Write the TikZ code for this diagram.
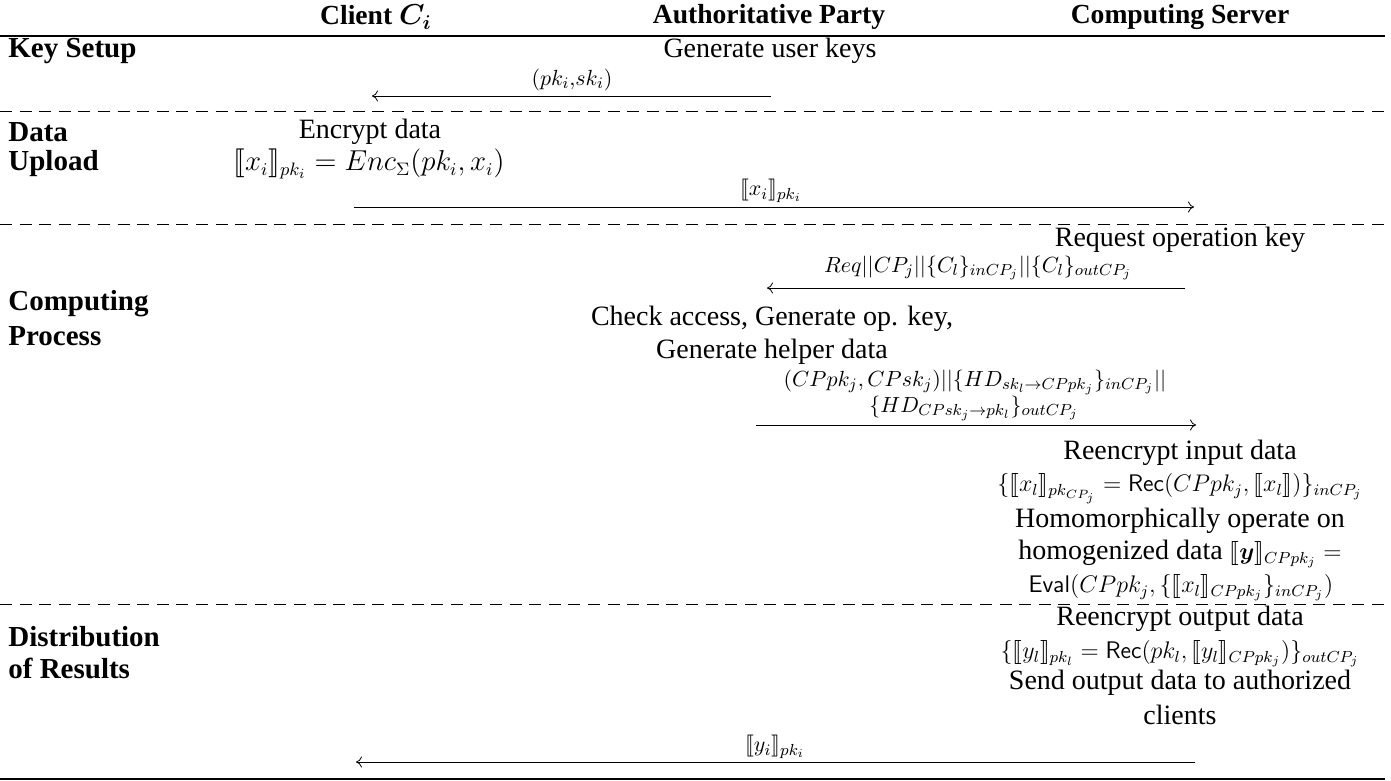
\documentclass[tikz,border=0pt]{standalone}
\usepackage{amsmath,amssymb}
\usepackage{stmaryrd}
\usepackage[no-math]{fontspec}
\setmainfont{Liberation Serif}
\usetikzlibrary{arrows.meta}
\tikzset{
  txt/.style={font=\fontsize{14}{16}\selectfont, inner sep=0pt},
  lbl/.style={font=\fontsize{11.3}{13}\selectfont, inner sep=0pt},
  frm/.style={font=\fontsize{12}{14}\selectfont, inner sep=0pt},
  head/.style={font=\fontsize{13.8}{16}\selectfont\bfseries\boldmath, inner sep=0pt},
  phase/.style={font=\fontsize{14.5}{16}\selectfont\bfseries, inner sep=0pt, anchor=west},
  msg/.style={-{To[length=3pt,width=5.5pt]}, line width=0.4pt},
  solidrule/.style={line width=0.7pt},
  dashrule/.style={line width=0.5pt, dash pattern=on 6pt off 3.8pt},
}
\begin{document}
\begin{tikzpicture}[x=0.5pt, y=-0.5pt]
\useasboundingbox (0,0) rectangle (1391,781);
% header
\node[head] (hc) at (376,17) {Client $C_i$};
\node[head] (ha) at (769,17) {Authoritative Party};
\node[head] (hs) at (1180,17) {Computing Server};
\draw[solidrule] (0,36) -- (1385,36);
% key setup
\node[phase] (p1) at (8,51) {Key Setup};
\node[txt] (gen) at (770,51) {Generate user keys};
\coordinate (a1s) at (771,96);
\coordinate (a1e) at (372,96);
\draw[msg] (a1s) -- (a1e);
\node[lbl] (l1) at (572,80) {$(pk_i{,}sk_i)$};
\draw[dashrule] (0,112) -- (1385,112);
% data upload
\node[phase] (p2a) at (8,132) {Data};
\node[phase] (p2b) at (8,164) {Upload};
\node[txt] (enc) at (370,132) {Encrypt data};
\node[txt, font=\fontsize{13.4}{15}\selectfont] (encf) at (369,164) {$\llbracket x_i\rrbracket_{pk_i} = Enc_{\Sigma}(pk_i, x_i)$};
\coordinate (a2s) at (354,207);
\coordinate (a2e) at (1194,207);
\draw[msg] (a2s) -- (a2e);
\node[lbl] (l2) at (771,191) {$\llbracket x_i\rrbracket_{pk_i}$};
\draw[dashrule] (0,224) -- (1385,224);
% computing process
\node[txt] (req) at (1180,240) {Request operation key};
\node[lbl] (l3) at (978,268) {$Req||CP_j||\{C_l\}_{inCP_j}||\{C_l\}_{outCP_j}$};
\coordinate (a3s) at (1185,288);
\coordinate (a3e) at (767,288);
\draw[msg] (a3s) -- (a3e);
\node[phase] (p3a) at (8,304) {Computing};
\node[phase] (p3b) at (8,336) {Process};
\node[txt] (chk1) at (772,319) {Check access, Generate op. key,};
\node[txt] (chk2) at (772,352) {Generate helper data};
\node[lbl] (l4a) at (975,382) {$(CPpk_j, CPsk_j)||\{HD_{sk_l\rightarrow CPpk_j}\}_{inCP_j}||$};
\node[lbl] (l4b) at (974,408) {$\{HD_{CPsk_j\rightarrow pk_l}\}_{outCP_j}$};
\coordinate (a4s) at (756,425);
\coordinate (a4e) at (1196,425);
\draw[msg] (a4s) -- (a4e);
\node[txt] (re1) at (1180,453) {Reencrypt input data};
\node[frm] (re2) at (1180,489) {$\{\llbracket x_l\rrbracket_{pk_{CP_j}} = \mathsf{Rec}(CPpk_j, \llbracket x_l\rrbracket)\}_{inCP_j}$};
\node[txt] (ho1) at (1180,521) {Homomorphically operate on};
\node[txt] (ho2) at (1180,554) {homogenized data {\fontsize{12}{14}\selectfont$\llbracket\boldsymbol{y}\rrbracket_{CPpk_j} =$}};
\node[frm] (ho3) at (1181,588) {$\mathsf{Eval}(CPpk_j, \{\llbracket x_l\rrbracket_{CPpk_j}\}_{inCP_j})$};
\draw[dashrule] (0,604) -- (1385,604);
% distribution
\node[phase] (p4a) at (8,637) {Distribution};
\node[phase] (p4b) at (8,668) {of Results};
\node[txt] (ro1) at (1180,619) {Reencrypt output data};
\node[frm] (ro2) at (1180,654) {$\{\llbracket y_l\rrbracket_{pk_l} = \mathsf{Rec}(pk_l, \llbracket y_l\rrbracket_{CPpk_j})\}_{outCP_j}$};
\node[txt] (so1) at (1180,683) {Send output data to authorized};
\node[txt] (so2) at (1180,715) {clients};
\coordinate (a5s) at (1195,762);
\coordinate (a5e) at (356,762);
\draw[msg] (a5s) -- (a5e);
\node[lbl] (l5) at (775,747) {$\llbracket y_i\rrbracket_{pk_i}$};
\draw[solidrule] (0,779) -- (1385,779);
\end{tikzpicture}
\end{document}
